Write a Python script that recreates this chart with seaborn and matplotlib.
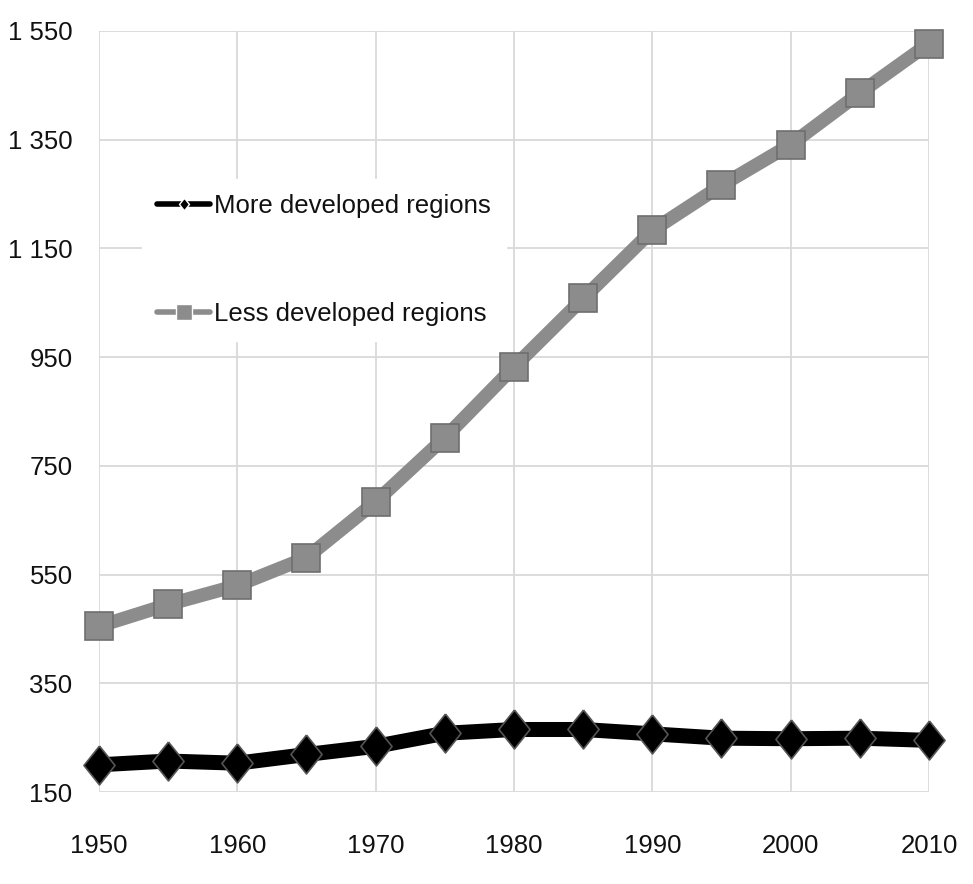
import numpy as np
import seaborn as sns
import matplotlib.pyplot as plt
import pandas as pd
from matplotlib.ticker import FuncFormatter

# values
years = [1950, 1955, 1960, 1965, 1970, 1975, 1980, 1985, 1990, 1995, 2000, 2005, 2010]
more_developed = [200, 207, 203, 219, 234, 258, 265, 265, 257, 249, 248, 249, 245]
less_developed = [455, 495, 530, 581, 684, 802, 932, 1058, 1183, 1266, 1341, 1436, 1527]
series_names = ['More developed regions', 'Less developed regions']
x_ticks = [1950, 1960, 1970, 1980, 1990, 2000, 2010]
y_ticks = [150, 350, 550, 750, 950, 1150, 1350, 1550]

data = pd.DataFrame({
    'year': years * 2,
    'value': more_developed + less_developed,
    'series': [series_names[0]] * len(years) + [series_names[1]] * len(years),
})

sns.set_style('white')
plt.rcParams['font.family'] = ['Liberation Sans', 'DejaVu Sans']

fig = plt.figure(figsize=(9.73, 8.84), dpi=100)
ax = fig.add_axes([99 / 973, 1 - 792 / 884, 830 / 973, 761 / 884])

diamond = [(0, 1), (0.8, 0), (0, -1), (-0.8, 0), (0, 1)]
sns.lineplot(data=data, x='year', y='value', hue='series', style='series',
             palette={series_names[0]: 'black', series_names[1]: '#8c8c8c'},
             markers={series_names[0]: diamond, series_names[1]: 's'},
             dashes=False, ax=ax, zorder=3)

for line, lw, ms, mec in zip(ax.lines, [10.8, 9.8], [28, 19.5], ['#555555', '#6e6e6e']):
    line.set_linewidth(lw)
    line.set_markersize(ms)
    line.set_markeredgecolor(mec)
    line.set_markeredgewidth(1.2)
    line.set_clip_on(False)
    line.set_solid_joinstyle('round')

ax.set_xlim(1950, 2010)
ax.set_ylim(150, 1550)
ax.set_xticks(x_ticks)
ax.set_yticks(y_ticks)
ax.yaxis.set_major_formatter(FuncFormatter(lambda v, p: f'{int(v):,}'.replace(',', ' ')))
ax.grid(True, color='#d9d9d9', linewidth=1.3)
ax.set_axisbelow(True)
for s in ax.spines.values():
    s.set_visible(False)
ax.tick_params(axis='both', length=0, labelsize=18.5, colors='#111111')
ax.tick_params(axis='x', pad=30)
ax.tick_params(axis='y', pad=19)
ax.set_xlabel('')
ax.set_ylabel('')

leg = ax.legend(loc='upper left', bbox_to_anchor=(0.0518, 0.806), frameon=True,
                fontsize=18.5, handlelength=2.06, handletextpad=0.15,
                labelspacing=3.25, borderpad=0.6, borderaxespad=0, fancybox=False)
leg.get_frame().set_edgecolor('white')
leg.get_frame().set_facecolor('white')
leg.get_frame().set_alpha(1)
for t in leg.get_texts():
    t.set_color('#111111')
for h, ms in zip(leg.legend_handles, [9, 11]):
    h.set_linewidth(4)
    h.set_markersize(ms)
    h.set_markeredgewidth(1)

fig.savefig('out.png', dpi=100)
